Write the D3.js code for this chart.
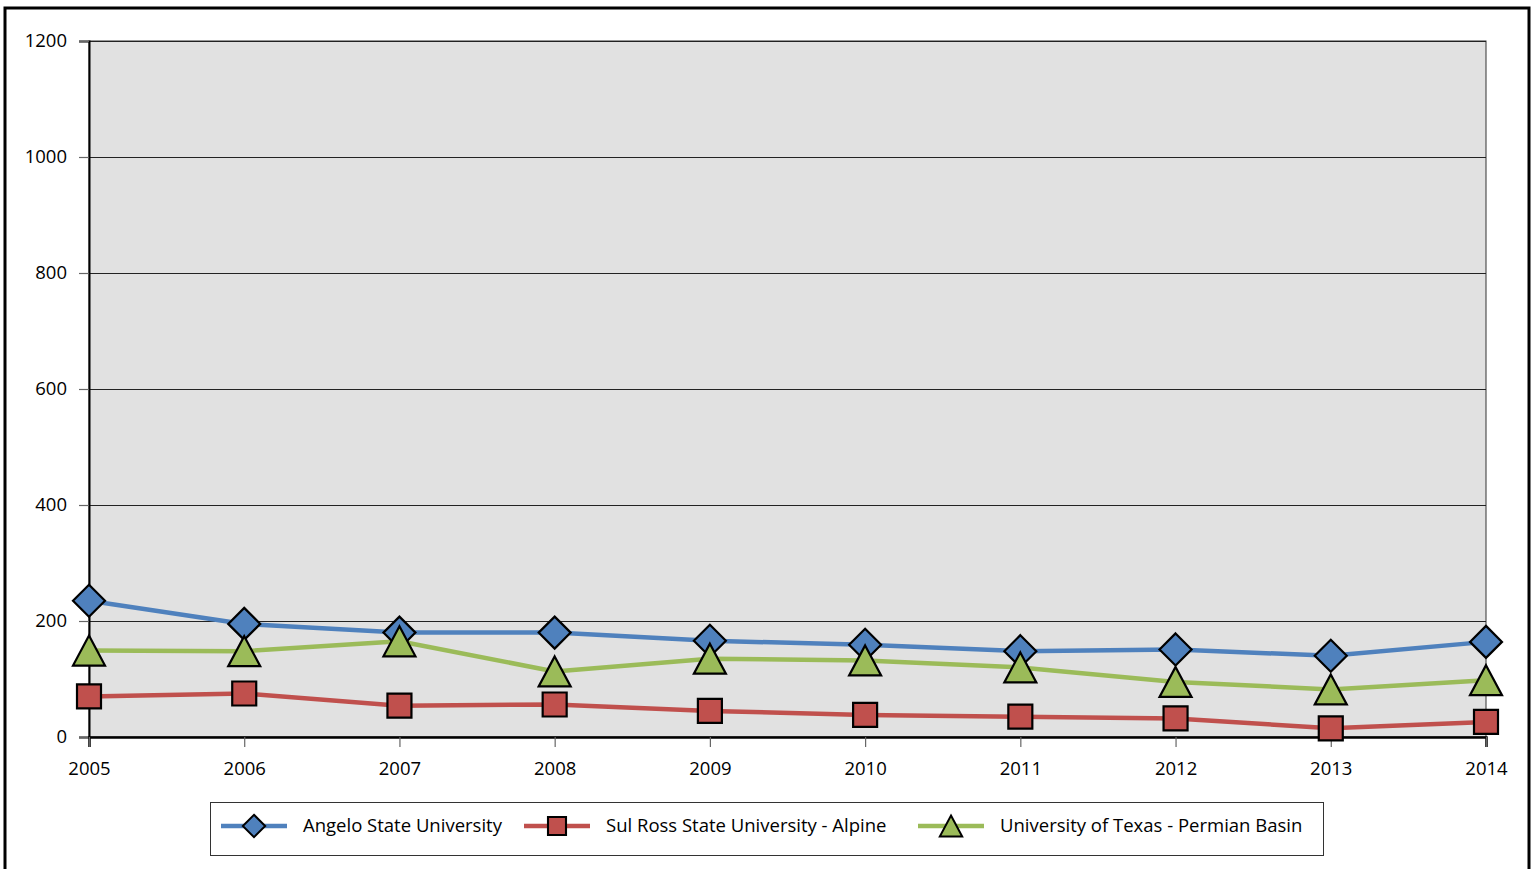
<!DOCTYPE html>
<html>
<head>
<meta charset="utf-8">
<script src="https://cdn.jsdelivr.net/npm/d3@7"></script>
<style>
  html, body { margin: 0; padding: 0; background: #fff; }
  svg { display: block; }
  text { font-family: "Open Sans", "Liberation Sans", sans-serif; fill: #000; }
</style>
</head>
<body>
<svg id="chart" width="1538" height="869"></svg>
<script>
// Years on the category axis
const years = [2005, 2006, 2007, 2008, 2009, 2010, 2011, 2012, 2013, 2014];
// Series values per year
const angeloState = [235, 195, 180, 180, 166, 159, 148, 151, 140, 164];
const sulRoss = [70, 75, 54, 56, 45, 38, 35, 32, 15, 26];
const utPermianBasin = [149, 148, 165, 113, 135, 132, 120, 95, 82, 98];
// Value axis ticks
const yTicks = [0, 200, 400, 600, 800, 1000, 1200];

const seriesNames = ["Angelo State University", "Sul Ross State University - Alpine", "University of Texas - Permian Basin"];
const seriesValues = [angeloState, sulRoss, utPermianBasin];
const seriesColors = ["#4F81BD", "#C0504D", "#9BBB59"];
const seriesShapes = ["diamond", "square", "triangle"];

const svg = d3.select("#chart");
const plotLeft = 89, plotRight = 1486, plotTop = 41, plotBottom = 737;

// Outer chart frame
svg.append("rect")
  .attr("x", 5).attr("y", 8).attr("width", 1524).attr("height", 880)
  .attr("fill", "none").attr("stroke", "#000").attr("stroke-width", 3);

const x = d3.scalePoint().domain(years).range([plotLeft, plotRight]).padding(0);
const y = d3.scaleLinear().domain([0, 1200]).range([plotBottom, plotTop]);

// Plot area background
svg.append("rect")
  .attr("x", plotLeft).attr("y", plotTop).attr("width", plotRight - plotLeft).attr("height", plotBottom - plotTop)
  .attr("fill", "#E1E1E1").attr("stroke", "#333").attr("stroke-width", 1);

// Horizontal gridlines
svg.append("g").selectAll("line")
  .data(yTicks.filter(t => t > 0))
  .join("line")
  .attr("x1", plotLeft).attr("x2", plotRight)
  .attr("y1", d => y(d) + 0.5).attr("y2", d => y(d) + 0.5)
  .attr("stroke", "#222").attr("stroke-width", 1);

// Y axis
const yAxis = svg.append("g")
  .attr("transform", `translate(${plotLeft},0)`)
  .call(d3.axisLeft(y).tickValues(yTicks).tickSize(10).tickPadding(12).tickFormat(d3.format("d")));
yAxis.select(".domain").attr("stroke", "#000").attr("stroke-width", 2);
yAxis.selectAll(".tick line").attr("stroke", "#666").attr("stroke-width", 1.2);
yAxis.selectAll(".tick text").attr("font-size", 18.5).attr("font-family", "'Open Sans', sans-serif");

// X axis
const xAxis = svg.append("g")
  .attr("transform", `translate(0,${plotBottom})`)
  .call(d3.axisBottom(x).tickSize(10).tickPadding(15).tickFormat(d3.format("d")));
xAxis.select(".domain").attr("stroke", "#000").attr("stroke-width", 2.5);
xAxis.selectAll(".tick line").attr("stroke", "#666").attr("stroke-width", 1.2);
xAxis.selectAll(".tick text").attr("font-size", 18.5).attr("font-family", "'Open Sans', sans-serif");

// Marker path generator, centered at 0,0
function markerPath(shape) {
  if (shape === "diamond") return "M0,-16L16,0L0,16L-16,0Z";
  if (shape === "square") return "M-12,-12H12V12H-12Z";
  return "M0,-15L16,15H-16Z";
}

const line = d3.line().x((d, i) => x(years[i])).y(d => y(d));

seriesValues.forEach((vals, s) => {
  svg.append("path")
    .datum(vals)
    .attr("d", line)
    .attr("fill", "none")
    .attr("stroke", seriesColors[s])
    .attr("stroke-width", 4.5)
    .attr("stroke-linejoin", "round");
});

seriesValues.forEach((vals, s) => {
  svg.append("g").selectAll("path")
    .data(vals)
    .join("path")
    .attr("transform", (d, i) => `translate(${x(years[i])},${y(d)})`)
    .attr("d", markerPath(seriesShapes[s]))
    .attr("fill", seriesColors[s])
    .attr("stroke", "#000")
    .attr("stroke-width", 2.2)
    .attr("stroke-linejoin", "miter");
});

// Legend
const legend = svg.append("g");
legend.append("rect")
  .attr("x", 210.5).attr("y", 802.5).attr("width", 1113).attr("height", 53)
  .attr("fill", "#fff").attr("stroke", "#333").attr("stroke-width", 1);

const legendX = [221, 524, 918];
const legendY = 826;
seriesNames.forEach((name, s) => {
  const lx = legendX[s];
  legend.append("line")
    .attr("x1", lx).attr("x2", lx + 66).attr("y1", legendY).attr("y2", legendY)
    .attr("stroke", seriesColors[s]).attr("stroke-width", 4.5);
  const sc = seriesShapes[s] === "square" ? 0.75 : 0.7;
  legend.append("path")
    .attr("transform", `translate(${lx + 33},${legendY}) scale(${sc})`)
    .attr("d", markerPath(seriesShapes[s]))
    .attr("fill", seriesColors[s])
    .attr("stroke", "#000").attr("stroke-width", 2.8);
  legend.append("text")
    .attr("x", lx + 82).attr("y", legendY)
    .attr("dy", "0.35em")
    .attr("font-size", 18.5)
    .text(name);
});
</script>
</body>
</html>
